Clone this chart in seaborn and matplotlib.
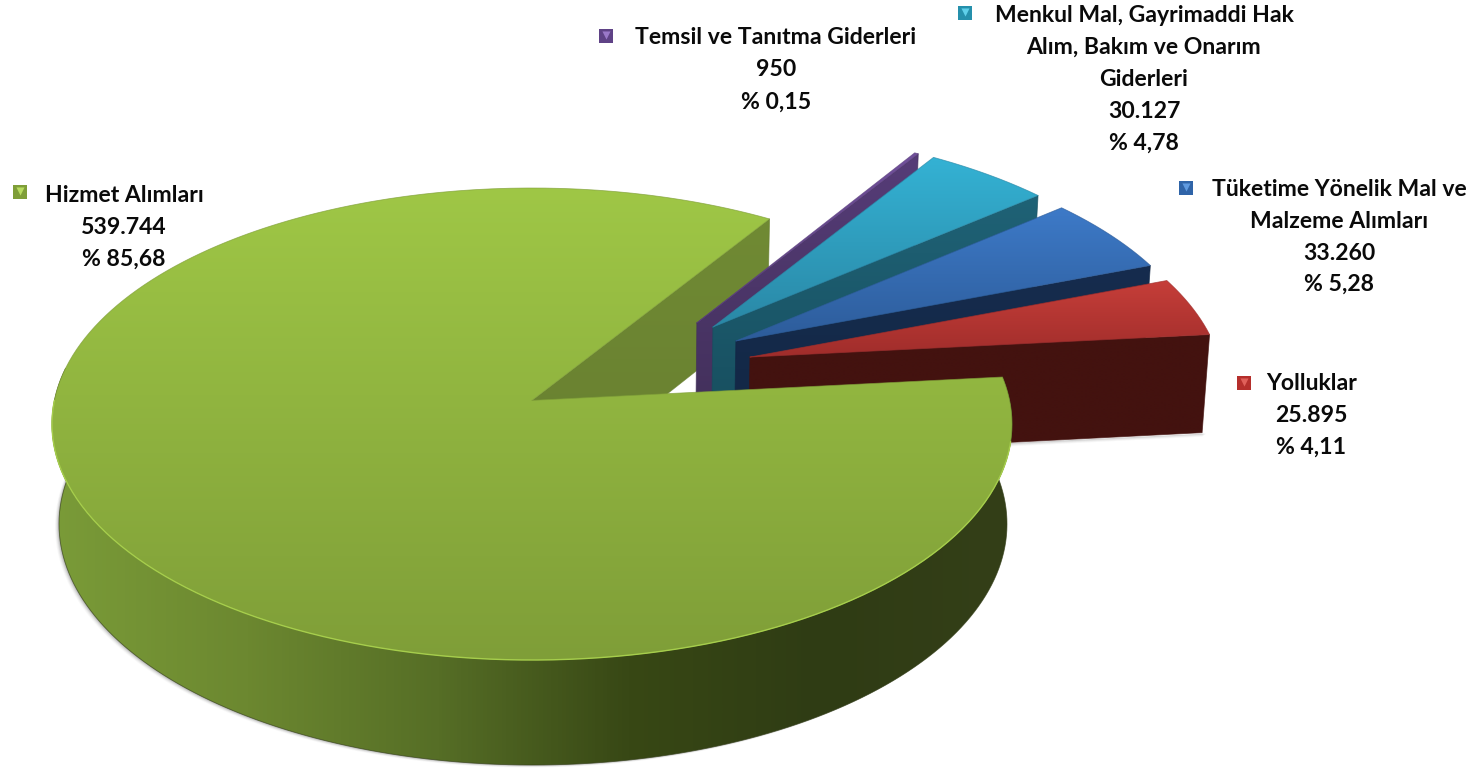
import numpy as np
import matplotlib.pyplot as plt
from matplotlib.patches import Polygon
import seaborn as sns

# data, in drawing order going anticlockwise from the red slice
categories = ["Yolluklar", "Tüketime Yönelik Mal ve Malzeme Alımları",
              "Menkul Mal, Gayrimaddi Hak Alım, Bakım ve Onarım Giderleri",
              "Temsil ve Tanıtma Giderleri", "Hizmet Alımları"]
values = [25895, 33260, 30127, 950, 539744]
value_labels = ["25.895", "33.260", "30.127", "950", "539.744"]
percent_labels = ["% 4,11", "% 5,28", "% 4,78", "% 0,15", "% 85,68"]
name_lines = [["Yolluklar"],
              ["Tüketime Yönelik Mal ve", "Malzeme Alımları"],
              ["Menkul Mal, Gayrimaddi Hak", "Alım, Bakım ve Onarım", "Giderleri"],
              ["Temsil ve Tanıtma Giderleri"],
              ["Hizmet Alımları"]]

# pie geometry (pixels), the disc is a perspective view of a unit circle
START_ANGLE = 5.8
PERSP = 0.1
TOP = (532, 424, 480, 236)
BOTTOM = (533, 524, 474, 241)
# how far each slice is pulled out, in disc units
explode = [(0.465, 0.189), (0.438, 0.261), (0.391, 0.324), (0.357, 0.343), (0.0, 0.0)]

face_colors = [["#c63e39", "#a02d2b"], ["#3d7ac8", "#2d5c9a"], ["#34b2d4", "#2a88a6"],
               ["#71509c", "#5b3f7e"], ["#9fc746", "#7f9e38"]]
wall_colors = [["#43120f", "#43120f"], ["#162c4e", "#122744"], ["#1f6276", "#174e5e"],
               ["#563c78", "#42305a"], ["#708a34", "#687f30"]]
front_wall = ["#7a9b38", "#6c8830", "#566e26", "#384815", "#2f3c14", "#343f18"]

# label layout: key position, x/y of the first line, x of the other lines
key_xy = [(1244, 383), (1186, 188), (965, 13), (606, 36), (20, 192)]
first_line = [(1312, 384), (1339, 190), (1144.5, 15), (776, 38), (124, 195)]
other_x = [1311, 1339, 1144, 776, 124]
line_step = [31.5, 31.5, 32, 32, 32]
key_colors = [("#b52f2c", "#e0605a"), ("#2f64a8", "#5f9ae0"), ("#2590ac", "#5fd0ea"),
              ("#5f4286", "#9a78c8"), ("#7f9e38", "#b8dc60")]


def project(x, y, plane):
  """Perspective view of a disc point (x, y) on the top or bottom plane."""
  cx, cy, rx, ry = plane
  den = 1 + PERSP * y
  return cx + rx * x * np.sqrt(1 - PERSP ** 2) / den, cy - ry * (y + PERSP) / den


def rim(offset, a0, a1, plane, n=160):
  t = np.radians(np.linspace(a0, a1, n))
  xs, ys = project(offset[0] + np.cos(t), offset[1] + np.sin(t), plane)
  return np.column_stack([xs, ys])


def gradient_poly(ax, pts, colors, vertical=True, zorder=1):
  """Fill a polygon with a linear gradient clipped to its outline."""
  cmap = sns.blend_palette(colors, 256, as_cmap=True)
  grad = np.linspace(0, 1, 256)
  grad = grad[:, None] if vertical else grad[None, :]
  x0, y0 = pts.min(axis=0)
  x1, y1 = pts.max(axis=0)
  im = ax.imshow(grad, cmap=cmap, extent=[x0, x1, y1, y0], aspect="auto", zorder=zorder,
                 origin="upper", interpolation="bilinear")
  patch = Polygon(pts, closed=True, facecolor="none", edgecolor="none")
  ax.add_patch(patch)
  im.set_clip_path(patch)
  # thin outline to soften the clipped edge
  ax.plot(*np.vstack([pts, pts[:1]]).T, color=colors[-1], lw=0.6, alpha=0.7, zorder=zorder)


def main():
  sns.set_theme(style="white")
  plt.rcParams["font.family"] = ["Lato", "DejaVu Sans"]
  fig = plt.figure(figsize=(14.79, 7.68), dpi=100)
  ax = fig.add_axes([0, 0, 1, 1])

  spans = 360 * np.array(values) / sum(values)
  starts = START_ANGLE + np.concatenate([[0], np.cumsum(spans)[:-1]])
  ends = starts + spans

  # inner walls, back to front: the big slice first, then purple to red
  big = len(values) - 1
  apex_t = project(0, 0, TOP)
  apex_b = project(0, 0, BOTTOM)
  p_t = rim(explode[big], starts[big], starts[big], TOP, 1)[0]
  p_b = rim(explode[big], starts[big], starts[big], BOTTOM, 1)[0]
  gradient_poly(ax, np.array([apex_t, p_t, p_b, apex_b]), wall_colors[big], zorder=1)

  for i in range(big - 1, -1, -1):
    off = explode[i]
    a_t = project(off[0], off[1], TOP)
    a_b = project(off[0], off[1], BOTTOM)
    p_t = rim(off, starts[i], starts[i], TOP, 1)[0]
    p_b = rim(off, starts[i], starts[i], BOTTOM, 1)[0]
    z = 2 + (big - i)
    # small shadow under the wall
    for k, alpha in zip([4, 3, 2, 1], [0.05, 0.08, 0.12, 0.18]):
      ax.fill([a_b[0], p_b[0] + k, p_b[0], a_b[0]], [a_b[1], p_b[1] + 1, p_b[1] + k, a_b[1] + k],
              color="#555555", alpha=alpha, lw=0, zorder=z)
    gradient_poly(ax, np.array([a_t, p_t, p_b, a_b]), wall_colors[i], zorder=z)
    face = np.vstack([[a_t], rim(off, starts[i], ends[i], TOP)])
    gradient_poly(ax, face, face_colors[i], zorder=z + 0.5)

  # big slice: soft shadow, outer wall, top face
  top_rim = rim(explode[big], 172, ends[big], TOP, 300)
  bot_rim = rim(explode[big], 172, ends[big], BOTTOM, 300)
  for k, alpha in zip([5, 4, 3, 2, 1], [0.04, 0.06, 0.09, 0.13, 0.18]):
    shifted = bot_rim + np.array([-k * 0.8, k * 0.5])
    ax.fill(*np.vstack([shifted, top_rim[::-1]]).T, color="#555555", alpha=alpha, lw=0, zorder=8)
  gradient_poly(ax, np.vstack([top_rim, bot_rim[::-1]]), front_wall, vertical=False, zorder=9)
  face = np.vstack([[apex_t], rim(explode[big], starts[big], ends[big], TOP, 400)])
  gradient_poly(ax, face, face_colors[big], zorder=10)
  ax.plot(*rim(explode[big], 180, 350, TOP, 200).T, color="#a6ce4c", lw=1.0, zorder=11)

  # labels: key, name lines, value and percent, each line centred on its own
  for i in range(len(values)):
    lines = name_lines[i] + [value_labels[i], percent_labels[i]]
    for j, line in enumerate(lines):
      x = first_line[i][0] if j == 0 else other_x[i]
      ax.text(x, first_line[i][1] + j * line_step[i], line, ha="center", va="center",
              fontsize=16.6, fontweight="bold", color="#0a0a0a", zorder=20)
    kx, ky = key_xy[i]
    ax.scatter([kx], [ky], marker="s", s=90, color=key_colors[i][0], lw=0, zorder=20)
    ax.scatter([kx], [ky - 1.5], marker="v", s=34, color=key_colors[i][1], lw=0, zorder=21)

  ax.set_xlim(0, 1479)
  ax.set_ylim(768, 0)
  ax.axis("off")
  fig.savefig("out.png", dpi=100)
  plt.close(fig)


if __name__ == "__main__":
  main()
